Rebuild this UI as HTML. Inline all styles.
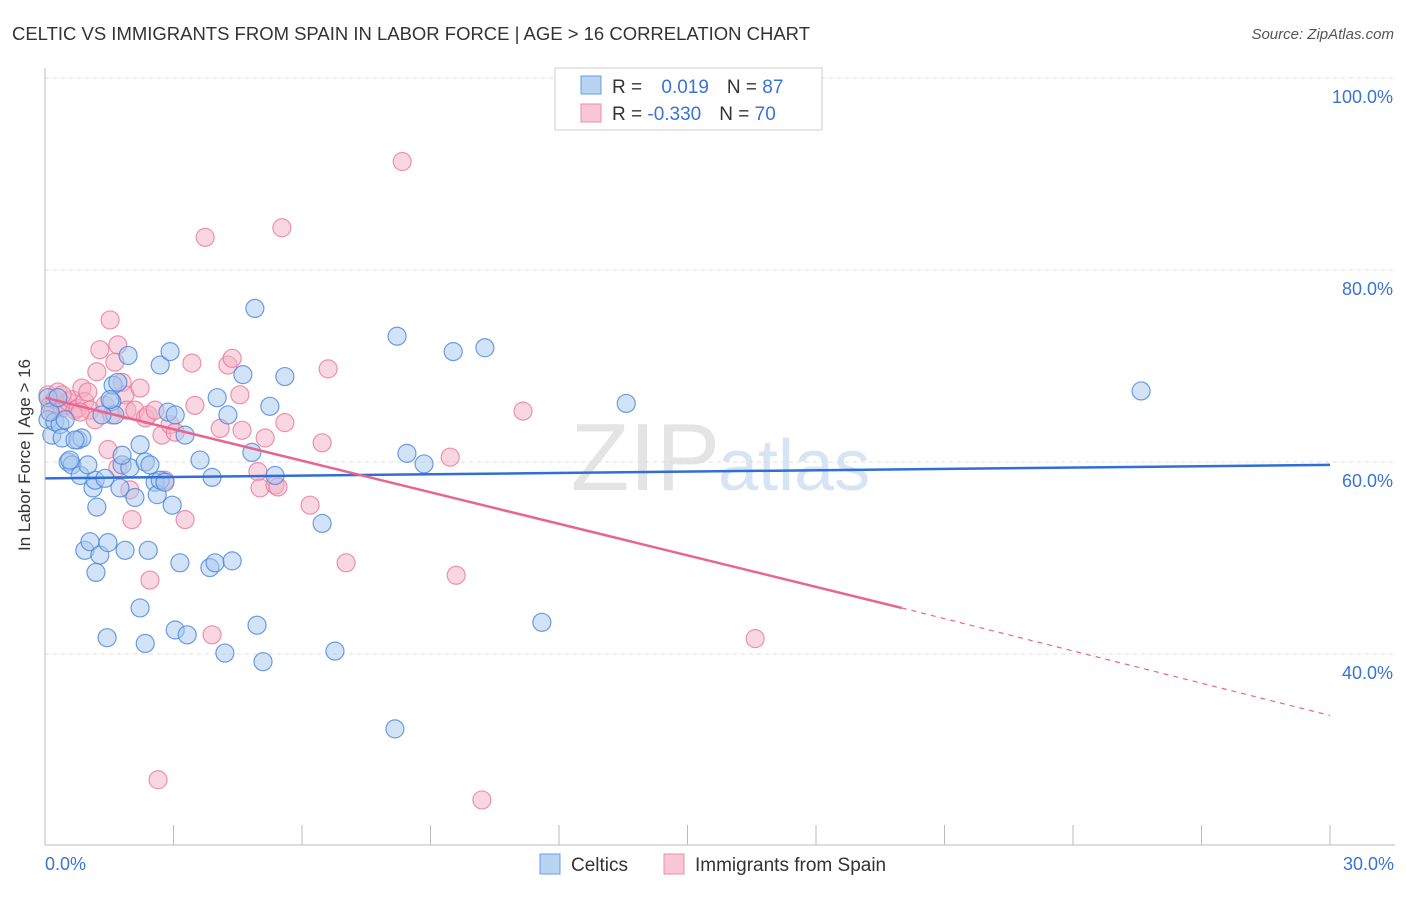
<!DOCTYPE html>
<html><head><meta charset="utf-8"><style>
body{margin:0;background:#fff;font-family:"Liberation Sans",sans-serif}
svg text{font-family:"Liberation Sans",sans-serif}
</style></head><body>
<svg id="chart" width="1406" height="892">
<text x="12" y="40" font-size="18.5" fill="#333" textLength="798" lengthAdjust="spacingAndGlyphs">CELTIC VS IMMIGRANTS FROM SPAIN IN LABOR FORCE | AGE &gt; 16 CORRELATION CHART</text>
<text x="1394" y="39" font-size="15" fill="#555" font-style="italic" text-anchor="end">Source: ZipAtlas.com</text>
<text x="720" y="490" font-size="96" fill="#e4e4e4" text-anchor="end" font-family="Liberation Serif">ZIP</text>
<text x="718" y="490" font-size="72" fill="#d6e4f4">atlas</text>
<g id="grid"></g><g id="pts"></g><g id="lines"></g>
<line x1="45" y1="68" x2="45" y2="845" stroke="#bbb"/>
<line x1="45" y1="845" x2="1395" y2="845" stroke="#bbb"/>
<text x="30" y="455" font-size="17" fill="#333" text-anchor="middle" transform="rotate(-90 30 455)">In Labor Force | Age &gt; 16</text>
<text x="45" y="870" font-size="18" fill="#3b73d1">0.0%</text>
<text x="1394" y="870" font-size="18" fill="#3b73d1" text-anchor="end">30.0%</text>
<g>
<rect x="555" y="68" width="267" height="62" fill="#fff" stroke="#ccc"/>
<rect x="581" y="76" width="20" height="18" fill="#b9d3f3" stroke="#6a9be0"/>
<rect x="581" y="104" width="20" height="18" fill="#f8c6d5" stroke="#ea8fab"/>
<text x="612" y="93" font-size="19" fill="#333">R = <tspan fill="#3b73d1" dx="14">0.019</tspan><tspan dx="18">N = </tspan><tspan fill="#3b73d1">87</tspan></text>
<text x="612" y="120" font-size="19" fill="#333">R = <tspan fill="#3b73d1">-0.330</tspan><tspan dx="18">N = </tspan><tspan fill="#3b73d1">70</tspan></text>
</g>
<g>
<rect x="540" y="854" width="20" height="20" fill="#b9d3f3" stroke="#6a9be0"/>
<text x="571" y="871" font-size="19" fill="#333">Celtics</text>
<rect x="664" y="854" width="20" height="20" fill="#f8c6d5" stroke="#ea8fab"/>
<text x="695" y="871" font-size="19" fill="#333">Immigrants from Spain</text>
</g>
</svg>
<script>
const yTicks=[100,80,60,40];
const xTicks=[0,3,6,9,12,15,18,21,24,27,30];
const blueX=[.07,.16,.23,.35,.40,.54,.63,.58,.77,.86,.82,.93,1.05,1.12,1.21,1.17,1.28,1.40,1.45,1.47,1.56,1.59,1.63,1.70,1.75,1.80,1.87,1.94,1.98,2.10,2.22,2.22,2.34,2.34,2.41,2.45,2.57,2.62,2.69,2.69,2.87,2.92,2.97,3.04,3.04,3.15,3.27,3.32,3.62,3.85,3.90,3.97,4.02,4.20,4.27,4.37,4.62,4.83,4.90,4.95,5.09,5.25,5.37,5.60,6.47,6.77,8.17,8.22,8.45,8.85,9.53,10.27,11.60,13.57,25.59,.07,.12,.30,.47,.70,1.33,1.52,2.80,1.80,1.00,1.19];
const blueY=[64.4,62.8,64.2,63.9,62.5,60.0,59.7,60.2,62.3,62.5,58.6,50.8,51.7,57.3,55.3,58.1,50.3,58.3,41.7,51.6,66.3,68.0,64.9,68.3,57.3,59.7,50.8,71.1,59.4,56.3,61.8,44.8,41.1,60.0,50.8,59.7,57.9,56.6,70.1,58.1,65.2,71.5,55.5,64.9,42.5,49.5,62.8,42.0,60.2,49.0,58.4,49.5,66.7,40.1,64.9,49.7,69.1,61.0,76.0,43.0,39.2,65.8,58.6,68.9,53.6,40.3,32.2,73.1,60.9,59.8,71.5,71.9,43.3,66.1,67.4,66.7,65.2,66.7,64.4,62.3,64.9,66.5,57.9,60.7,59.7,48.5];
const pinkX=[.07,.12,.19,.23,.30,.40,.47,.54,.63,.70,.77,.86,.93,1.00,1.05,1.17,1.21,1.28,1.40,1.47,1.52,1.56,1.63,1.70,1.80,1.87,1.91,1.98,2.03,2.10,2.22,2.34,2.41,2.45,2.57,2.64,2.73,2.80,2.92,3.04,3.27,3.43,3.50,3.74,3.90,4.09,4.27,4.37,4.55,4.60,4.97,5.02,5.14,5.37,5.44,5.53,5.60,6.19,6.47,6.61,7.03,8.34,9.46,9.60,10.20,11.16,16.58,.40,.82,1.70];
const pinkY=[67.0,65.9,65.4,66.5,67.3,65.6,65.9,66.3,66.5,65.4,65.6,67.7,66.3,67.3,65.4,64.4,69.4,71.7,65.9,61.3,74.8,64.9,70.4,72.2,68.3,67.0,65.4,57.1,54.0,65.4,67.7,64.6,64.9,47.7,65.4,26.9,62.8,58.1,63.9,63.1,54.0,70.3,65.9,83.4,42.0,63.5,70.1,70.8,67.0,63.3,59.0,57.3,62.5,57.6,57.4,84.4,64.1,55.5,62.0,69.7,49.5,91.3,60.5,48.2,24.8,65.3,41.6,67.0,65.2,59.4];
const blueTrend=[58.3,59.7];
const pinkTrend=[66.7,44.8,33.6];
const pinkSolidEnd=20.0;
const NS='http://www.w3.org/2000/svg';
const sx=v=>45+v/30*1285;
const sy=v=>78+(100-v)*9.6;
function mk(tag,attrs,parent){const e=document.createElementNS(NS,tag);for(const k in attrs)e.setAttribute(k,attrs[k]);document.getElementById(parent).appendChild(e);return e;}
yTicks.forEach(t=>{
 const l=mk('line',{x1:45,x2:1395,y1:sy(t),y2:sy(t),stroke:'#ddd','stroke-dasharray':'4 4'},'grid');
 
 
 const tx=mk('text',{x:1393,y:sy(t)+25,'font-size':18,fill:'#3b73d1','text-anchor':'end'},'grid');
 tx.textContent=t.toFixed(1)+'%';
 
 
});
xTicks.forEach(t=>{
 const l=mk('line',{x1:sx(t),x2:sx(t),y1:825,y2:845,stroke:'#bbb'},'grid');
 
 
});
function pts(xs,ys,fill,stroke,name){xs.forEach((x,i)=>{
 const c=mk('circle',{cx:sx(x),cy:sy(ys[i]),r:9,fill:fill,'fill-opacity':0.5,stroke:stroke,'stroke-opacity':0.8,'stroke-width':1.2},'pts');
 
 
});}
pts(pinkX,pinkY,'#f4b0c5','#e8799a','spain-point');
pts(blueX,blueY,'#a8c8f0','#4a86d8','celtic-point');
const bl=mk('line',{x1:sx(0),y1:sy(blueTrend[0]),x2:sx(30),y2:sy(blueTrend[1]),stroke:'#2f6fd6','stroke-width':2.5},'lines');


const pl=mk('line',{x1:sx(0),y1:sy(pinkTrend[0]),x2:sx(pinkSolidEnd),y2:sy(pinkTrend[1]),stroke:'#e8658f','stroke-width':2.5},'lines');


const pd=mk('line',{x1:sx(pinkSolidEnd),y1:sy(pinkTrend[1]),x2:sx(30),y2:sy(pinkTrend[2]),stroke:'#e8658f','stroke-width':1.2,'stroke-dasharray':'5 5'},'lines');


</script>
</body></html>
